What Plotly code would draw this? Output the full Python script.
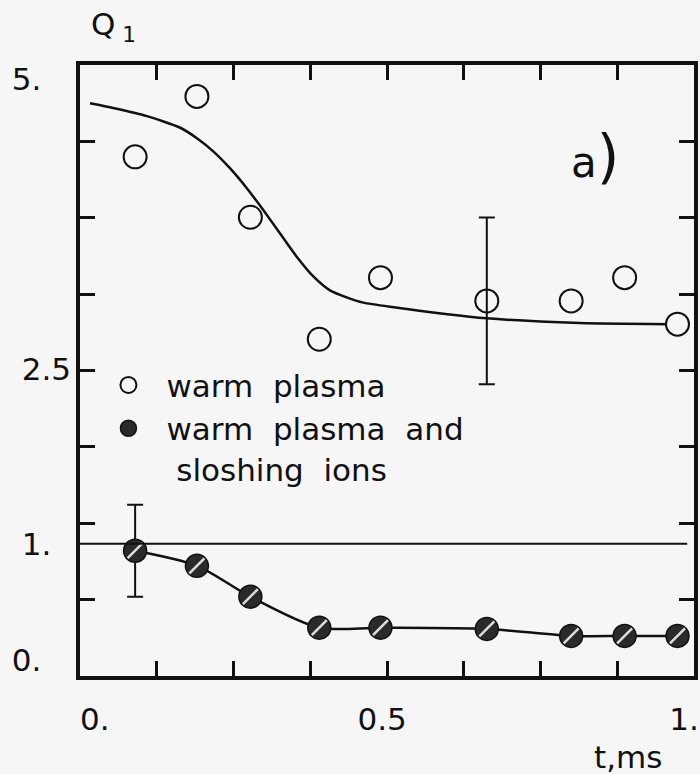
import numpy as np
import plotly.graph_objects as go

# ---------------- data ----------------
t_ms = [0.076, 0.18, 0.27, 0.386, 0.489, 0.668, 0.81, 0.90, 0.989]
q_warm = [4.33, 4.85, 3.81, 2.76, 3.29, 3.09, 3.09, 3.29, 2.89]
q_slosh = [0.94, 0.81, 0.545, 0.278, 0.278, 0.267, 0.207, 0.207, 0.207]

# theory curve for warm plasma
t_theory = [0.0, 0.039, 0.096, 0.152, 0.18, 0.208, 0.236, 0.264, 0.292, 0.32,
            0.348, 0.376, 0.404, 0.432, 0.46, 0.505, 0.668, 0.825, 0.971]
q_theory = [4.79, 4.75, 4.68, 4.58, 4.49, 4.375, 4.23, 4.06, 3.87, 3.67,
            3.47, 3.30, 3.18, 3.12, 3.075, 3.04, 2.94, 2.90, 2.89]

# error bars (index of point, half-length)
err_warm_idx, err_warm = 5, 0.718
err_slosh_idx, err_slosh = 0, 0.396

q_threshold = 1.0

x_tick_vals = [0, 0.5, 1]
x_tick_text = ["\u00a00.", "0.5\u00a0", "1."]
y_tick_vals = [0, 1, 2.5, 5]
y_tick_text = ["0.\u00a0\u00a0\u00a0", "1.\u00a0\u00a0", "2.5", "5.\u00a0\u00a0\u00a0"]

x_range = [-0.0168, 1.0168]
y_range = [-0.138, 5.12]

INK = "#111111"
BG = "#f6f6f6"
FONT = "DejaVu Sans"
FS = 31

# tick marks divide the frame in 8 equal parts
x_marks = list(np.linspace(x_range[0], x_range[1], 9)[1:-1])
y_marks = list(np.linspace(y_range[0], y_range[1], 9)[1:-1])

fig = go.Figure()

# theory curve
fig.add_trace(go.Scatter(x=t_theory, y=q_theory, mode="lines",
                         line=dict(color=INK, width=2.5, shape="spline", smoothing=0.6),
                         showlegend=False, hoverinfo="skip"))
# curve through sloshing-ion points
fig.add_trace(go.Scatter(x=t_ms, y=q_slosh, mode="lines",
                         line=dict(color=INK, width=2.5, shape="spline", smoothing=0.8),
                         showlegend=False, hoverinfo="skip"))

# error bars
fig.add_trace(go.Scatter(x=[t_ms[err_warm_idx]], y=[q_warm[err_warm_idx]], mode="markers",
                         marker=dict(size=1, color="rgba(0,0,0,0)"),
                         error_y=dict(type="data", array=[err_warm], color=INK, thickness=2, width=8),
                         showlegend=False, hoverinfo="skip"))
fig.add_trace(go.Scatter(x=[t_ms[err_slosh_idx]], y=[q_slosh[err_slosh_idx]], mode="markers",
                         marker=dict(size=1, color="rgba(0,0,0,0)"),
                         error_y=dict(type="data", array=[err_slosh], color=INK, thickness=2, width=8),
                         showlegend=False, hoverinfo="skip"))

# markers
fig.add_trace(go.Scatter(x=t_ms, y=q_warm, mode="markers", name="warm\u00a0\u00a0plasma",
                         marker=dict(symbol="circle-open", size=23, color=INK, line=dict(width=2, color=INK))))
fig.add_trace(go.Scatter(x=t_ms, y=q_slosh, mode="markers",
                         name="warm\u00a0\u00a0plasma\u00a0\u00a0and<br>\u00a0sloshing\u00a0\u00a0ions",
                         marker=dict(symbol="circle", size=23, color="#2a2a2a", line=dict(width=1.5, color=INK))))
# hatching hint on filled markers
fig.add_trace(go.Scatter(x=t_ms, y=q_slosh, mode="markers",
                         marker=dict(symbol="line-ne-open", size=15, color="#dddddd", line=dict(width=2.5)),
                         showlegend=False, hoverinfo="skip"))

# empty trace so that the label axes are drawn
fig.add_trace(go.Scatter(x=[], y=[], xaxis="x2", yaxis="y2", showlegend=False, hoverinfo="skip"))

# threshold line Q = 1
fig.add_shape(type="line", xref="paper", x0=0, x1=0.989, yref="y", y0=q_threshold, y1=q_threshold,
              line=dict(color=INK, width=2))

axis_common = dict(showgrid=False, zeroline=False, automargin=False)
fig.update_layout(
    width=700, height=774,
    margin=dict(l=80, r=6, t=65, b=98),
    paper_bgcolor=BG, plot_bgcolor=BG,
    font=dict(family=FONT, size=FS, color=INK),
    xaxis=dict(range=x_range, tickvals=x_marks, ticks="inside", ticklen=15, tickwidth=2.5,
               tickcolor=INK, showticklabels=False, showline=True, linewidth=4, linecolor=INK,
               mirror="ticks", **axis_common),
    yaxis=dict(range=y_range, tickvals=y_marks, ticks="inside", ticklen=15, tickwidth=2.5,
               tickcolor=INK, showticklabels=False, showline=True, linewidth=4, linecolor=INK,
               mirror="ticks", **axis_common),
    xaxis2=dict(overlaying="x", anchor="y2", side="bottom", range=x_range, tickvals=x_tick_vals,
                ticktext=x_tick_text, ticks="", showline=False, ticklabelstandoff=22,
                ticklabeloverflow="allow",
                tickfont=dict(size=FS, family=FONT, color=INK), **axis_common),
    yaxis2=dict(overlaying="y", anchor="x2", side="left", range=y_range, tickvals=y_tick_vals,
                ticktext=y_tick_text, ticks="", showline=False, ticklabelstandoff=8,
                ticklabeloverflow="allow",
                tickfont=dict(size=FS, family=FONT, color=INK), **axis_common),
    legend=dict(x=0.017, y=0.52, xanchor="left", yanchor="top", bgcolor="rgba(0,0,0,0)",
                font=dict(size=FS, family=FONT, color=INK), itemwidth=66, valign="top",
                tracegroupgap=0),
    annotations=[
        dict(text="Q<sub>\u00a01</sub>", xref="paper", yref="paper", x=0.0145, y=1.0638,
             xanchor="left", yanchor="middle", showarrow=False, font=dict(size=FS)),
        dict(text="t,ms", xref="paper", yref="paper", x=0.8336, y=-0.1326,
             xanchor="left", yanchor="middle", showarrow=False, font=dict(size=FS)),
        dict(text="a<span style='font-size:58px'>)</span>", xref="paper", yref="paper",
             x=0.8385, y=0.8494, xanchor="center", yanchor="middle", showarrow=False,
             font=dict(size=42)),
    ],
)

fig.write_html("out.html")
